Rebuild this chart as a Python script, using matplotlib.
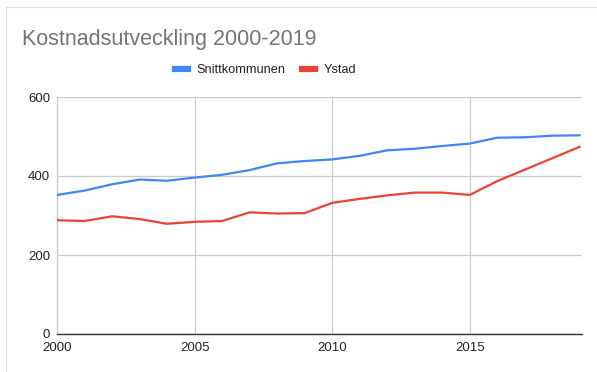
import matplotlib
matplotlib.use("Agg")
import matplotlib.pyplot as plt
from matplotlib.lines import Line2D

years = list(range(2000, 2020))
snitt = [352, 363, 379, 391, 388, 396, 403, 415, 432, 438,
         442, 451, 465, 469, 476, 482, 497, 498, 502, 503]
ystad = [288, 286, 298, 291, 279, 284, 286, 308, 305, 306,
         332, 342, 351, 358, 358, 352, 387, 416, 445, 474]
series_names = ["Snittkommunen", "Ystad"]
title = "Kostnadsutveckling 2000-2019"
yticks = [0, 200, 400, 600]
xticks = [2000, 2005, 2010, 2015]

plt.rcParams['font.family'] = ['Liberation Sans', 'DejaVu Sans']

W, H = 597, 372
fig = plt.figure(figsize=(W / 100, H / 100), dpi=100)
ax = fig.add_axes([57 / W, 1 - 334 / H, (582 - 57) / W, (334 - 97) / H])

blue = "#4285F4"
red = "#EA4335"
ax.plot(years, snitt, color=blue, lw=1.6, solid_capstyle='round', zorder=3)
ax.plot(years, ystad, color=red, lw=1.6, solid_capstyle='round', zorder=3)

ax.set_xlim(2000, 2019.08)
ax.set_ylim(0, 600)
ax.set_yticks(yticks)
ax.set_xticks(xticks)
ax.set_yticklabels([str(v) for v in yticks], fontsize=9.5, color="#222222")
ax.set_xticklabels([str(v) for v in xticks], fontsize=9.5, color="#222222")
ax.tick_params(length=0, pad=5)
ax.tick_params(axis='x', pad=6)
ax.grid(True, color="#cccccc", lw=0.9)
ax.set_axisbelow(True)
for s in ['top', 'right']:
    ax.spines[s].set_visible(False)
ax.spines['left'].set_color("#cccccc")
ax.spines['left'].set_linewidth(0.9)
ax.spines['bottom'].set_color("#333333")
ax.spines['bottom'].set_linewidth(1.0)
ax.spines['bottom'].set_zorder(4)

fig.text(22 / W, 1 - 40 / H, title, fontsize=15.5, color="#757575",
         ha='left', va='center')

handles = [Line2D([], [], color=blue, lw=4.5), Line2D([], [], color=red, lw=4.5)]
leg = fig.legend(handles, series_names, loc='center', bbox_to_anchor=(266 / W, 1 - 70 / H),
                 ncol=2, frameon=False, fontsize=9.2, handlelength=1.0,
                 handletextpad=0.7, columnspacing=1.3)
for t in leg.get_texts():
    t.set_color("#222222")

# outer frame (top and left)
fig.add_artist(Line2D([6 / W, 1.0], [1 - 7 / H, 1 - 7 / H], color="#dddddd", lw=0.8,
                      transform=fig.transFigure))
fig.add_artist(Line2D([6 / W, 6 / W], [0.0, 1 - 7 / H], color="#dddddd", lw=0.8,
                      transform=fig.transFigure))

fig.savefig("out.png", dpi=100)
